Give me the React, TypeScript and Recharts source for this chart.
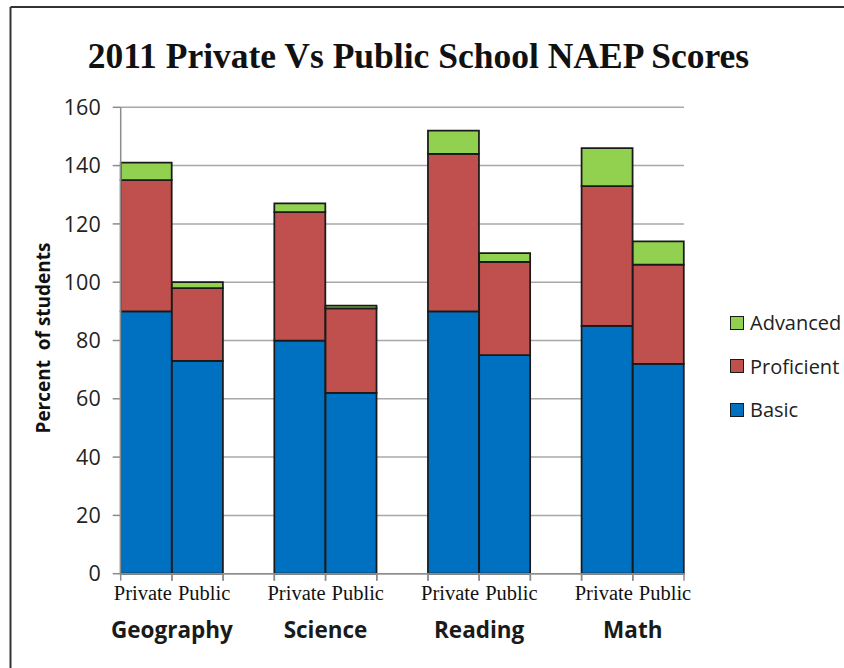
import React from "react";
import {
  BarChart,
  Bar,
  XAxis,
  YAxis,
  CartesianGrid,
  Legend,
} from "recharts";

// values, in stack order Basic -> Proficient -> Advanced
const subjects = ["Geography", "Science", "Reading", "Math"];
const schools = ["Private", "Public"];
const basic = [90, 73, 80, 62, 90, 75, 85, 72];
const proficient = [45, 25, 44, 29, 54, 32, 48, 34];
const advanced = [6, 2, 3, 1, 8, 3, 13, 8];
const yTicks = [0, 20, 40, 60, 80, 100, 120, 140, 160];

const SERIES = [
  { key: "basic", name: "Basic", color: "#0070C0" },
  { key: "proficient", name: "Proficient", color: "#C0504D" },
  { key: "advanced", name: "Advanced", color: "#92D050" },
];

type Row = {
  key: string;
  school: string;
  subject: string;
  basic: number | null;
  proficient: number | null;
  advanced: number | null;
};

// Excel-style layout: two bars per subject, an empty slot between subjects
const rows: Row[] = [];
subjects.forEach((subject, i) => {
  schools.forEach((school, j) => {
    const k = i * 2 + j;
    rows.push({
      key: `${subject}-${school}`,
      school,
      subject,
      basic: basic[k],
      proficient: proficient[k],
      advanced: advanced[k],
    });
  });
  if (i < subjects.length - 1) {
    rows.push({
      key: `gap-${i}`,
      school: "",
      subject: "",
      basic: null,
      proficient: null,
      advanced: null,
    });
  }
});

const W = 844;
const H = 668;
const PLOT_LEFT = 120.7;
const PLOT_RIGHT = 684;
const PLOT_TOP = 107.3;
const PLOT_BOTTOM = 573.7;
const BAND = (PLOT_RIGHT - PLOT_LEFT) / rows.length;
const TICK_LEN = 7;
const AXIS_GRAY = "#8c8c8c";
const BAR_STROKE = "#1a1a1a";

const CategoryTick = (props: any) => {
  const { x, y, payload } = props;
  const row = rows.find((r) => r.key === payload.value);
  const half = BAND / 2;
  const top = y - TICK_LEN;
  const isPrivate = row && row.school === "Private";
  return (
    <g>
      <line x1={x - half} x2={x - half} y1={top} y2={y} stroke={AXIS_GRAY} strokeWidth={1.5} />
      <line x1={x + half} x2={x + half} y1={top} y2={y} stroke={AXIS_GRAY} strokeWidth={1.5} />
      {row && row.school && (
        <text
          x={isPrivate ? x + half : x - half + 6}
          y={y + 19}
          textAnchor={isPrivate ? "end" : "start"}
          fontFamily="'Liberation Serif', serif"
          fontSize={20.5}
          fill="#111"
        >
          {row.school}
        </text>
      )}
      {row && row.school === "Public" && (
        <text
          x={x - half}
          y={y + 57}
          textAnchor="middle"
          fontFamily="'Open Sans', sans-serif"
          fontWeight={700}
          fontSize={22.5}
          fill="#1a1a1a"
        >
          {row.subject}
        </text>
      )}
    </g>
  );
};

const LegendBox = () => (
  <div style={{ fontFamily: "'Open Sans', sans-serif", fontSize: 20, color: "#222" }}>
    {[...SERIES].reverse().map((s) => (
      <div
        key={s.key}
        style={{ display: "flex", alignItems: "center", height: 43.5, whiteSpace: "nowrap" }}
      >
        <span
          style={{
            width: 12,
            height: 12,
            background: s.color,
            border: `1.5px solid ${BAR_STROKE}`,
            marginRight: 6,
            flex: "none",
          }}
        />
        {s.name}
      </div>
    ))}
  </div>
);

export default function App() {
  return (
    <div
      style={{
        position: "absolute",
        left: 0,
        top: 0,
        width: W,
        height: H,
        overflow: "hidden",
        background: "#fff",
      }}
    >
      <BarChart
        width={W}
        height={H}
        data={rows}
        barCategoryGap={0}
        barGap={0}
        margin={{ top: PLOT_TOP, right: W - PLOT_RIGHT, left: 0, bottom: 0 }}
      >
        <CartesianGrid vertical={false} stroke="#a8a8a8" strokeWidth={1.5} />
        <XAxis
          dataKey="key"
          interval={0}
          height={H - PLOT_BOTTOM}
          tickLine={false}
          tickSize={TICK_LEN}
          tickMargin={0}
          tick={<CategoryTick />}
          stroke={AXIS_GRAY}
          strokeWidth={1.5}
        />
        <YAxis
          width={PLOT_LEFT}
          domain={[0, 160]}
          ticks={yTicks}
          interval={0}
          tickSize={8}
          tickMargin={12}
          stroke={AXIS_GRAY}
          strokeWidth={1.5}
          tick={{ fill: "#222", fontSize: 21.5, fontFamily: "'Open Sans', sans-serif" }}
        />
        <Legend
          layout="vertical"
          align="center"
          verticalAlign="middle"
          content={<LegendBox />}
          wrapperStyle={{ left: 730, top: 301, width: 120 }}
        />
        {SERIES.map((s) => (
          <Bar
            key={s.key}
            dataKey={s.key}
            name={s.name}
            stackId="a"
            fill={s.color}
            stroke={BAR_STROKE}
            strokeWidth={1.75}
            isAnimationActive={false}
          />
        ))}
      </BarChart>
      <svg
        width={W}
        height={H}
        style={{ position: "absolute", left: 0, top: 0, pointerEvents: "none" }}
      >
        <line x1={10.5} x2={10.5} y1={7} y2={H} stroke="#333" strokeWidth={2} />
        <line x1={10.5} x2={W} y1={7} y2={7} stroke="#333" strokeWidth={2} />
        <text
          x={418.5}
          y={68}
          textAnchor="middle"
          fontFamily="'Liberation Serif', serif"
          fontWeight={700}
          fontSize={35.5}
          fill="#111"
        >
          2011 Private Vs Public School NAEP Scores
        </text>
        <text
          x={0}
          y={0}
          transform="translate(50,338) rotate(-90)"
          textAnchor="middle"
          fontFamily="'Open Sans', sans-serif"
          fontWeight={700}
          fontSize={19}
          fill="#111"
          style={{ whiteSpace: "pre" }}
        >
          Percent  of students
        </text>
      </svg>
    </div>
  );
}
